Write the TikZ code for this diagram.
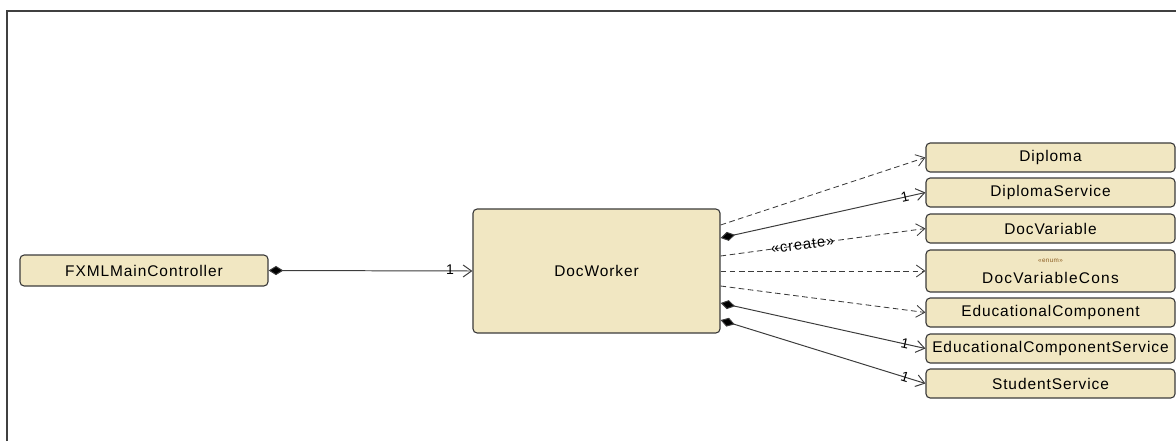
\documentclass[tikz,border=0pt]{standalone}
\usepackage{fontspec}
\setmainfont{Liberation Sans}[LetterSpace=6]
\usetikzlibrary{arrows.meta}

\definecolor{classfill}{HTML}{F1E7C2}
\definecolor{classline}{HTML}{3C3C3C}
\definecolor{stereo}{HTML}{8A5A1E}

\begin{document}
\begin{tikzpicture}[x=0.025cm, y=-0.025cm,
        cls/.style={draw=classline, fill=classfill, rounded corners=3pt, line width=0.8pt,
                    minimum width=6.225cm, minimum height=0.725cm, inner sep=0pt,
                    font=\fontsize{11}{13}\selectfont},
        dep/.style={draw=classline, line width=0.6pt, dash pattern=on 4pt off 2.5pt,
                    -{Straight Barb[length=6pt,width=8.5pt]}},
        comp/.style={draw=classline, line width=0.7pt,
                    {Diamond[length=10.5pt,width=6.5pt,fill=black]}-{Straight Barb[length=6pt,width=8.5pt]}},
        mult/.style={pos=0.92, sloped, inner sep=0pt, font=\fontsize{10}{12}\selectfont}]

            \useasboundingbox (0,0) rectangle (1176,441);
            \draw[line width=1pt, color=black!75] (7,441) -- (7,11) -- (1176,11);

            \node[cls, minimum width=6.2cm, minimum height=0.775cm] at (144, 270.5) (main) {FXMLMainController};
            \node[cls, minimum width=6.175cm, minimum height=3.1cm] at (596.5, 271) (dw) {DocWorker};

            \node[cls] at (1050.5, 157.5)      (dip)   {Diploma};
            \node[cls] at (1050.5, 192.5)      (dips)  {DiplomaService};
            \node[cls] at (1050.5, 228.5)      (dv)    {DocVariable};
            \node[cls, minimum height=1.05cm] at (1050.5, 271) (dvc) {};
            \node at (1050.5, 261)      (dvc_st)  {\fontsize{4.5}{5}\selectfont\color{stereo}«enum»};
            \node at (1050.5, 278)      (dvc_nm)  {\fontsize{11}{13}\selectfont\addfontfeature{LetterSpace=8}DocVariableCons};
            \node[cls] at (1050.5, 312.5)      (ec)    {EducationalComponent};
            \node[cls] at (1050.5, 348.5)      (ecs)   {EducationalComponentService};
            \node[cls] at (1050.5, 383.5)      (ss)    {StudentService};

            \draw[comp] (main.east) -- node[mult, pos=0.89, yshift=1pt] {1} (dw.west);

            \draw[dep] ([yshift=1.15cm]dw.east) -- (dip.west);
            \draw[comp] ([yshift=0.825cm]dw.east) -- node[mult, pos=0.9] {1} (dips.west);
            \draw[dep] ([yshift=0.375cm]dw.east) -- node[sloped, pos=0.4, inner sep=0.5pt, font=\fontsize{10.5}{12}\selectfont] {«create»} (dv.west);
            \draw[dep] (dw.east) -- (dvc.west);
            \draw[dep] ([yshift=-0.375cm]dw.east) -- (ec.west);
            \draw[comp] ([yshift=-0.8cm]dw.east) -- node[mult, pos=0.9] {1} (ecs.west);
            \draw[comp] ([yshift=-1.225cm]dw.east) -- node[mult, pos=0.9] {1} (ss.west);
        \end{tikzpicture}
\end{document}
